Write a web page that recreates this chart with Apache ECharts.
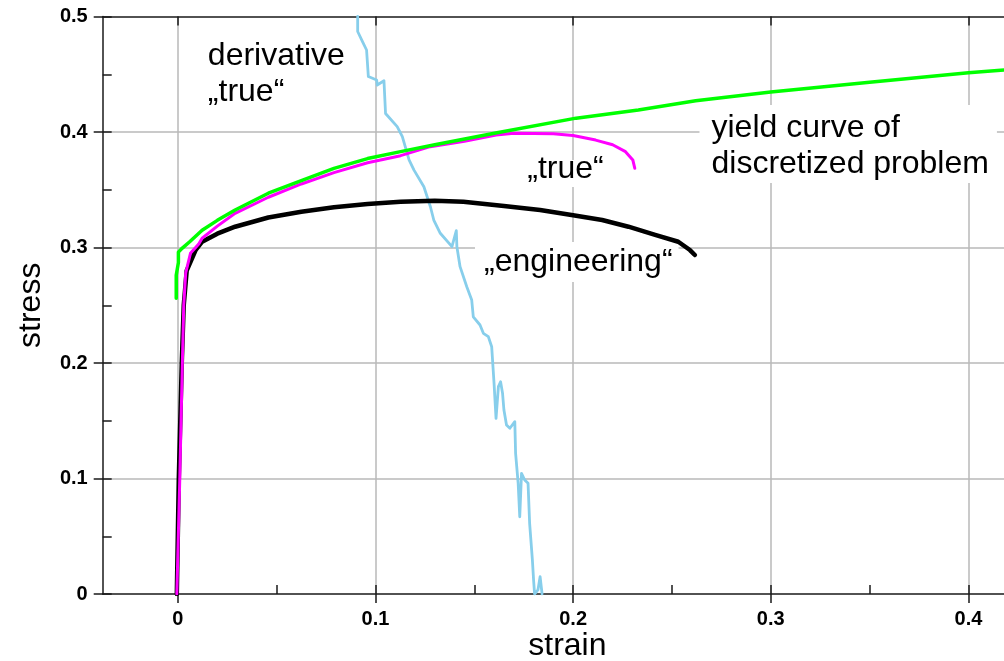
<!DOCTYPE html>
<html>
<head>
<meta charset="utf-8">
<script src="https://cdn.jsdelivr.net/npm/echarts@6/dist/echarts.min.js"></script>
<style>
  html, body { margin: 0; padding: 0; background: #fff; overflow: hidden; }
  #chart { width: 1004px; height: 661px; }
</style>
</head>
<body>
<div id="chart"></div>
<script>
// ---- axis ticks ----
const xMajorTicks = [0, 0.1, 0.2, 0.3, 0.4];
const xInnerTicks = [0, 0.05, 0.1, 0.15, 0.2, 0.25, 0.3, 0.35, 0.4];
const yInnerTicks = [0, 0.05, 0.1, 0.15, 0.2, 0.25, 0.3, 0.35, 0.4, 0.45, 0.5];

// ---- curves: [strain, stress] ----
const yieldCurve = [
  [-0.0008, 0.256], [-0.0008, 0.276], [0.0003, 0.287], [0.0003, 0.296], [0.0023, 0.2995],
  [0.006, 0.305], [0.0123, 0.315], [0.02, 0.3235], [0.029, 0.3325], [0.0458, 0.347],
  [0.0625, 0.358], [0.079, 0.3685], [0.096, 0.377], [0.1127, 0.383], [0.13, 0.389],
  [0.1615, 0.3994], [0.2015, 0.412], [0.233, 0.419], [0.262, 0.427], [0.3, 0.4346],
  [0.35, 0.443], [0.4, 0.4513], [0.418, 0.4537]
];
const trueCurve = [
  [-0.0005, 0], [0.001, 0.1], [0.0023, 0.2], [0.003, 0.25], [0.004, 0.278],
  [0.0064, 0.295], [0.0106, 0.303], [0.0123, 0.308], [0.02, 0.3185], [0.029, 0.3296],
  [0.0458, 0.3435], [0.0625, 0.355], [0.079, 0.3648], [0.096, 0.3734], [0.1127, 0.3795],
  [0.1277, 0.3873], [0.145, 0.392], [0.161, 0.3974], [0.17, 0.399], [0.19, 0.3985],
  [0.2, 0.397], [0.2114, 0.393], [0.22, 0.389], [0.2265, 0.383], [0.2302, 0.3758],
  [0.2312, 0.3686]
];
const engineeringCurve = [
  [-0.0005, 0], [0.0005, 0.1], [0.002, 0.2], [0.003, 0.25], [0.0045, 0.28],
  [0.0072, 0.2906], [0.009, 0.2978], [0.0123, 0.305], [0.02, 0.312], [0.029, 0.318],
  [0.0458, 0.326], [0.0625, 0.331], [0.079, 0.3348], [0.096, 0.3377], [0.1127, 0.3397],
  [0.13, 0.3405], [0.1445, 0.3397], [0.165, 0.336], [0.1833, 0.3325], [0.2, 0.328],
  [0.2147, 0.3238], [0.228, 0.318], [0.2415, 0.311], [0.2532, 0.305], [0.2591, 0.2978],
  [0.2616, 0.2935]
];
const derivativeCurve = [
  [0.091, 0.5], [0.091, 0.487], [0.0935, 0.478], [0.0955, 0.471], [0.0964, 0.448],
  [0.1006, 0.445], [0.1009, 0.4407], [0.1043, 0.4444], [0.1051, 0.416], [0.111, 0.4046],
  [0.1136, 0.396], [0.117, 0.3758], [0.1195, 0.367], [0.1245, 0.3526], [0.1278, 0.3353],
  [0.1295, 0.3238], [0.1328, 0.3123], [0.1387, 0.3007], [0.1409, 0.3146], [0.1412, 0.3007],
  [0.1428, 0.2834], [0.1462, 0.266], [0.1487, 0.2545], [0.1495, 0.24], [0.1529, 0.2329],
  [0.1546, 0.2257], [0.1571, 0.2228], [0.1588, 0.2141], [0.16, 0.1824], [0.161, 0.1521],
  [0.1622, 0.1795], [0.1633, 0.1838], [0.1643, 0.1738], [0.165, 0.1593], [0.1663, 0.1463],
  [0.168, 0.1435], [0.1705, 0.1492], [0.1709, 0.1218], [0.1722, 0.0958], [0.173, 0.0669],
  [0.1739, 0.1045], [0.1755, 0.0987], [0.1772, 0.0958], [0.178, 0.0612], [0.1794, 0.0294],
  [0.18, 0.0121], [0.1805, 0], [0.1822, 0.0035], [0.1833, 0.015], [0.1843, 0]
];

// ---- annotation texts ----
const noteTexts = {
  derivative: 'derivative\n\u201etrue\u201c',
  yieldCurve: 'yield curve of\ndiscretized problem',
  trueCurve: '\u201etrue\u201c',
  engineering: '\u201eengineering\u201c'
};
const xName = 'strain';
const yName = 'stress';

// ---- layout / style ----
const X_MIN = -0.038, X_MAX = 0.418;
const FONT = '"Liberation Sans", Arial, sans-serif';
const FS = 32;
const MID = 0.3465 * FS;   // distance from canvas 'middle' baseline to alphabetic baseline

// anchor = left end of first text baseline, in [strain, stress]
const noteLayout = [
  { key: 'derivative',  anchor: [0.0152, 0.4560], lh: 36, pad: [4, 6, 4, 8] },
  { key: 'yieldCurve',  anchor: [0.2700, 0.3939], lh: 36, pad: [5, 8, 1, 12] },
  { key: 'trueCurve',   anchor: [0.1768, 0.3584], lh: 18, pad: [0, 6, 9, 6] },
  { key: 'engineering', anchor: [0.1549, 0.2779], lh: 32, pad: [4, 6, 4, 9] }
];
const xNameAt = [0.1971, -0.045];
const yNameAt = [-0.0740, 0.25];

const gridColor = '#b8b8b8';
const axisColor = '#1a1a1a';

const chart = echarts.init(document.getElementById('chart'), null, { renderer: 'canvas' });

const lineSeries = (name, data, color, width) => ({
  name, type: 'line', data, showSymbol: false, symbol: 'none',
  lineStyle: { color, width, join: 'round', cap: 'round' },
  clip: true, animation: false, silent: true
});

const hiddenLine = { show: false, onZero: false };
const visibleLine = { show: true, onZero: false, lineStyle: { color: axisColor, width: 1.5 } };

const baseAxisX = {
  type: 'value', min: X_MIN, max: X_MAX,
  axisLine: hiddenLine, axisLabel: { show: false },
  splitLine: { show: false }, axisTick: { show: false }
};
const baseAxisY = {
  type: 'value', min: 0, max: 0.5,
  axisLine: hiddenLine, axisLabel: { show: false },
  splitLine: { show: false }, axisTick: { show: false }
};

chart.setOption({
  animation: false,
  backgroundColor: '#fff',
  grid: { left: 102.7, top: 16.5, width: 908.4, height: 577.5, containLabel: false },
  xAxis: [
    Object.assign({}, baseAxisX, {
      position: 'bottom',
      axisLine: visibleLine,
      axisTick: { show: true, inside: false, length: 9, customValues: xMajorTicks,
                  lineStyle: { color: axisColor, width: 1.5 } },
      axisLabel: { show: true, customValues: xMajorTicks, margin: 15, color: '#000',
                   fontFamily: FONT, fontWeight: 'bold', fontSize: 20 },
      splitLine: { show: true, lineStyle: { color: gridColor, width: 1.5 } }
    }),
    Object.assign({}, baseAxisX, {
      position: 'bottom',
      axisTick: { show: true, inside: true, length: 9, customValues: xInnerTicks,
                  lineStyle: { color: axisColor, width: 1.5 } }
    }),
    Object.assign({}, baseAxisX, {
      position: 'top',
      axisLine: visibleLine,
      axisTick: { show: true, inside: true, length: 9, customValues: xMajorTicks,
                  lineStyle: { color: axisColor, width: 1.5 } }
    })
  ],
  yAxis: [
    Object.assign({}, baseAxisY, {
      position: 'left', interval: 0.1,
      axisLine: visibleLine,
      axisTick: { show: true, inside: false, length: 9, lineStyle: { color: axisColor, width: 1.5 } },
      axisLabel: { show: true, margin: 15, color: '#000',
                   fontFamily: FONT, fontWeight: 'bold', fontSize: 20 },
      splitLine: { show: true, showMinLine: false, showMaxLine: false,
                   lineStyle: { color: gridColor, width: 1.5 } }
    }),
    Object.assign({}, baseAxisY, {
      position: 'left',
      axisTick: { show: true, inside: true, length: 9, customValues: yInnerTicks,
                  lineStyle: { color: axisColor, width: 1.5 } }
    })
  ],
  series: [
    lineSeries('derivative "true"', derivativeCurve, '#87ceeb', 2.8),
    lineSeries('"engineering"', engineeringCurve, '#000000', 4.5),
    lineSeries('"true"', trueCurve, '#ff00ff', 3),
    lineSeries('yield curve of discretized problem', yieldCurve, '#00ff00', 3.5)
  ]
});

// annotation boxes and axis titles, positioned through the value axes
const toPx = (p) => chart.convertToPixel({ xAxisIndex: 0, yAxisIndex: 0 }, p);
const graphics = noteLayout.map(n => {
  const [bx, by] = toPx(n.anchor);
  return {
    type: 'text', z: 1, silent: true,
    x: bx - n.pad[3],
    y: by - n.lh / 2 - MID - n.pad[0],
    style: {
      text: noteTexts[n.key], font: FS + 'px ' + FONT, fill: '#000',
      lineHeight: n.lh, backgroundColor: '#fff', padding: n.pad,
      align: 'left', verticalAlign: 'top'
    }
  };
});
const [xnx, xny] = toPx(xNameAt);
const [ynx, yny] = toPx(yNameAt);
graphics.push({
  type: 'text', z: 3, silent: true, x: xnx, y: xny,
  style: { text: xName, font: FS + 'px ' + FONT, fill: '#000', align: 'center', verticalAlign: 'middle' }
});
graphics.push({
  type: 'text', z: 3, silent: true, x: ynx, y: yny, rotation: Math.PI / 2,
  style: { text: yName, font: FS + 'px ' + FONT, fill: '#000', align: 'center', verticalAlign: 'middle' }
});
chart.setOption({ graphic: graphics });
</script>
</body>
</html>
